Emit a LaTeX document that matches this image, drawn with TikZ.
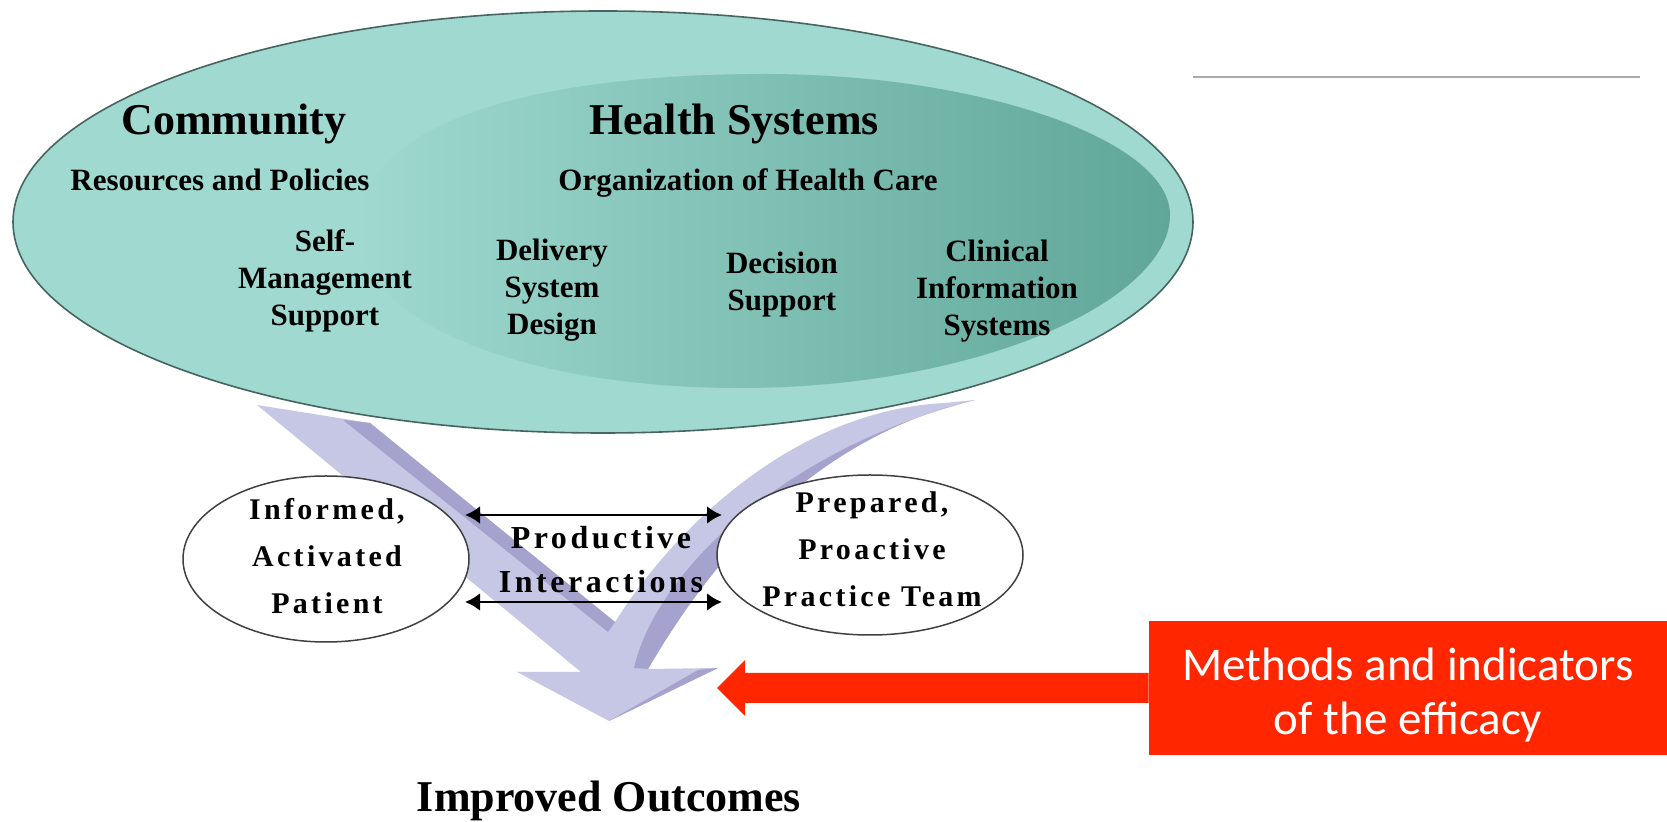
\documentclass[tikz,border=0pt]{standalone}
\usepackage{fontspec}
\setmainfont{Liberation Serif}
\newfontfamily\sansf{Carlito}
\newfontfamily\spacedf[LetterSpace=11]{Liberation Serif}
\usetikzlibrary{arrows.meta,shapes.geometric}
\definecolor{tealA}{RGB}{159,217,208}
\definecolor{tealB}{RGB}{96,166,153}
\definecolor{tealEdge}{RGB}{70,100,96}
\definecolor{lav}{RGB}{197,199,229}
\definecolor{lavD}{RGB}{165,162,206}
\definecolor{redc}{RGB}{255,38,0}
\definecolor{rulegray}{RGB}{170,170,170}
\begin{document}
\begin{tikzpicture}[x=0.5pt,y=-0.5pt,
  headtxt/.style={font=\bfseries\fontsize{22}{26}\selectfont, inner sep=0, anchor=base},
  subone/.style={font=\bfseries\fontsize{15.5}{18.5}\selectfont, inner sep=0, anchor=base},
  subtxt/.style={font=\bfseries\fontsize{15.5}{18.5}\selectfont, inner sep=0, align=center},
  oval/.style={ellipse, draw=black!75, line width=0.75pt, fill=white, inner sep=0},
  ovaltxt/.style={font=\spacedf\bfseries\fontsize{15}{23.5}\selectfont, inner sep=0, align=center},
  dblarr/.style={{Latex[length=7.5pt,width=9pt]}-{Latex[length=7.5pt,width=9pt]}, line width=1.4pt, black},
]
\useasboundingbox (0,0) rectangle (1667,822);
\fill[white] (0,0) rectangle (1667,822);

% top rule
\coordinate (g1) at (1193,77);
\coordinate (g2) at (1640,77);
\draw[rulegray, line width=0.8pt] (g1) -- (g2);

% V arrow
\fill[lav] (257,405) -- (581,672) -- (517,672) -- (609,721) -- (718,668) -- (648,669)
  .. controls (700,580) and (800,440) .. (975,400) -- (945,403)
  .. controls (800,410) and (680,520) .. (615,622) -- (370,423) -- cycle;
\fill[lavD] (343,420) -- (370,423) -- (615,622) -- (608,632) -- cycle;
\fill[lavD] (648,669) .. controls (700,580) and (800,440) .. (975,400)
  .. controls (780,450) and (655,575) .. (634,668) -- cycle;
\fill[lavD] (609,721) -- (718,668) -- (698,670) -- cycle;

% big ellipse
\node[ellipse, draw=tealEdge, line width=0.8pt, fill=tealA, inner sep=0,
      minimum width=590pt, minimum height=211pt] (cm) at (603,222) {};
\shade[left color=tealA, right color=tealB]
  (358,230) .. controls (358,120) and (540,74) .. (765,74)
  .. controls (980,74) and (1170,140) .. (1170,215)
  .. controls (1170,300) and (980,388) .. (740,388)
  .. controls (520,388) and (358,320) .. (358,230) -- cycle;

\node[headtxt] (comm) at (234,135) {Community};
\node[headtxt] (hs) at (734,135) {Health Systems};
\node[subone] (res) at (220,191) {Resources and Policies};
\node[subone] (org) at (748,191) {Organization of Health Care};
\node[subtxt] (sms) at (325,281) {Self-\\Management\\Support};
\node[subtxt] (dsd) at (552,290) {Delivery\\System\\Design};
\node[subtxt] (dec) at (782,285) {Decision\\Support};
\node[subtxt] (cis) at (997,291) {Clinical\\Information\\Systems};

% small ellipses
\node[oval, minimum width=143pt, minimum height=83pt] (pat) at (326,559) {};
\node[oval, minimum width=153pt, minimum height=80pt] (team) at (870,555) {};
\node[ovaltxt] (pattxt) at (327,556) {Informed,\\Activated\\Patient};
\node[ovaltxt] (teamtxt) at (872,549) {Prepared,\\Proactive\\Practice Team};

% productive interactions
\coordinate (u1) at (465,515);
\coordinate (u2) at (722,515);
\coordinate (l1) at (465,602);
\coordinate (l2) at (722,602);
\draw[dblarr] (u1) -- (u2);
\draw[dblarr] (l1) -- (l2);
\node[font=\spacedf\bfseries\fontsize{16}{22}\selectfont, inner sep=0, align=center] (prod) at (601,560) {Productive\\Interactions};

\node[headtxt] (out) at (609,812) {Improved Outcomes};

% red callout
\node[fill=redc, minimum width=259pt, minimum height=67pt, inner sep=0, align=center,
      text=white, font=\sansf\fontsize{23.5}{27}\selectfont] (box) at (1408,688)
      {\rule{0pt}{23.5pt}Methods and indicators\\of the efficacy};
\coordinate (rtip) at (717,688);
\fill[redc] ([yshift=7.5pt]box.west) -- ([xshift=14pt,yshift=7.5pt]rtip)
  -- ([xshift=14pt,yshift=14pt]rtip) -- (rtip) -- ([xshift=14pt,yshift=-14pt]rtip)
  -- ([xshift=14pt,yshift=-7.5pt]rtip) -- ([yshift=-7.5pt]box.west) -- cycle;
\end{tikzpicture}
\end{document}
